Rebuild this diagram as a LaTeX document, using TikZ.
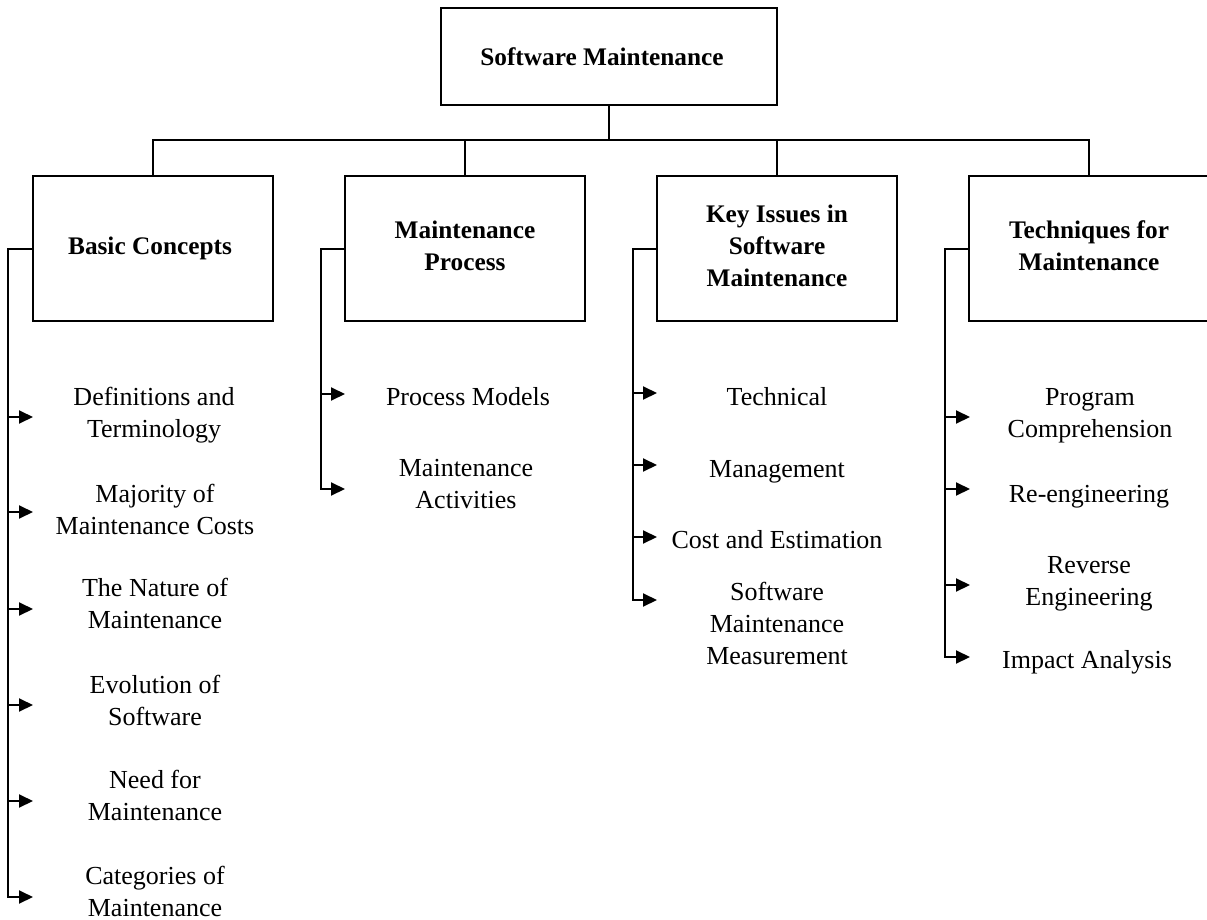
\documentclass[tikz,border=0pt]{standalone}
\usepackage{fontspec}
\setmainfont{Liberation Serif}
\usetikzlibrary{arrows.meta}
\begin{document}
\begin{tikzpicture}[x=1pt,y=-1pt,
  line/.style={line width=2pt},
  box/.style={draw, line width=2pt, minimum width=240pt, minimum height=145pt,
    font=\bfseries\fontsize{25.3}{32}\selectfont, align=center, inner sep=0pt},
  item/.style={font=\fontsize{26}{32}\selectfont, align=center, inner sep=0pt},
  arr/.style={line width=2pt, -{Triangle[length=14pt,width=13pt]}}]
\useasboundingbox (0,0) rectangle (1207,920);

% top
\node[box, minimum width=336pt, minimum height=97pt] (top) at (609,56.5) {Software Maintenance\hspace*{14pt}};

% level boxes
\node[box] (basic) at (153,248.5) {Basic Concepts\hspace*{6pt}};
\node[box] (proc) at (465,248.5) {\strut Maintenance\\\strut Process};
\node[box] (key) at (777,248.5) {\strut Key Issues in\\\strut Software\\\strut Maintenance};
\node[box] (tech) at (1089,248.5) {\strut Techniques for\\\strut Maintenance};

% tree connectors
\coordinate (bus) at (609,140);
\draw[line] (top.south) -- (bus);
\draw[line] (basic.north) |- (bus);
\draw[line] (tech.north) |- (bus);
\draw[line] (proc.north) -- (proc.north |- bus);
\draw[line] (key.north) -- (key.north |- bus);

% Basic Concepts children
\node[item] (d1) at (154,414.6) {\strut Definitions and\\\strut Terminology};
\node[item] (d2) at (155,511.6) {\strut Majority of\\\strut Maintenance Costs};
\node[item] (d3) at (155,606) {\strut The Nature of\\\strut Maintenance};
\node[item] (d4) at (155,702.6) {\strut Evolution of\\\strut Software};
\node[item] (d5) at (155,797.6) {\strut Need for\\\strut Maintenance};
\node[item] (d6) at (155,893.6) {\strut Categories of\\\strut Maintenance};
\coordinate (ad1) at (33,417);
\coordinate (ad2) at (33,512);
\coordinate (ad3) at (33,609);
\coordinate (ad4) at (33,705);
\coordinate (ad5) at (33,801);
\coordinate (ad6) at (33,897);
\draw[arr] (basic.west) -| (8,897) -- (ad6);
\draw[arr] (8,417) -- (ad1);
\draw[arr] (8,512) -- (ad2);
\draw[arr] (8,609) -- (ad3);
\draw[arr] (8,705) -- (ad4);
\draw[arr] (8,801) -- (ad5);

% Maintenance Process children
\node[item] (p1) at (468,398.6) {\strut Process Models};
\node[item] (p2) at (466,485.6) {\strut Maintenance\\\strut Activities};
\coordinate (ap1) at (345,394);
\coordinate (ap2) at (345,489);
\draw[arr] (proc.west) -| (321,489) -- (ap2);
\draw[arr] (321,394) -- (ap1);

% Key Issues children
\node[item] (k1) at (777,398.6) {\strut Technical};
\node[item] (k2) at (777,470.6) {\strut Management};
\node[item] (k3) at (777,541.6) {\strut Cost and Estimation};
\node[item] (k4) at (777,625.6) {\strut Software\\\strut Maintenance\\\strut Measurement};
\coordinate (ak1) at (657,393);
\coordinate (ak2) at (657,465);
\coordinate (ak3) at (657,537);
\coordinate (ak4) at (657,600);
\draw[arr] (key.west) -| (633,600) -- (ak4);
\draw[arr] (633,393) -- (ak1);
\draw[arr] (633,465) -- (ak2);
\draw[arr] (633,537) -- (ak3);

% Techniques children
\node[item] (t1) at (1090,414.6) {\strut Program\\\strut Comprehension};
\node[item] (t2) at (1089,495.6) {\strut Re-engineering};
\node[item] (t3) at (1089,582.6) {\strut Reverse\\\strut Engineering};
\node[item] (t4) at (1087,661.6) {\strut Impact Analysis};
\coordinate (at1) at (970,417);
\coordinate (at2) at (970,489);
\coordinate (at3) at (970,585);
\coordinate (at4) at (970,657);
\draw[arr] (tech.west) -| (945,657) -- (at4);
\draw[arr] (945,417) -- (at1);
\draw[arr] (945,489) -- (at2);
\draw[arr] (945,585) -- (at3);
\end{tikzpicture}
\end{document}
